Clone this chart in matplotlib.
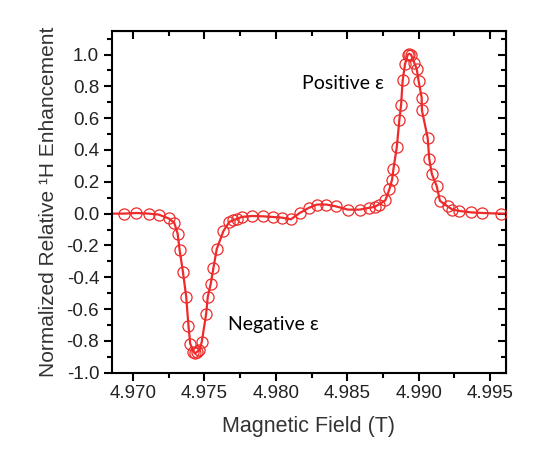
import matplotlib.pyplot as plt
from matplotlib.ticker import MultipleLocator, FormatStrFormatter

# measured points (open circles)
field = [4.96935, 4.97023, 4.97109, 4.97179, 4.97249, 4.97288, 4.97312, 4.97326,
         4.97349, 4.97372, 4.97388, 4.97400, 4.97423, 4.97435, 4.97447, 4.97465,
         4.97481, 4.97512, 4.97523, 4.97544, 4.97563, 4.97586, 4.97633, 4.97674,
         4.97702, 4.97726, 4.97760, 4.97830, 4.97912, 4.97977, 4.98040, 4.98105,
         4.98167, 4.98230, 4.98288, 4.98353, 4.98419, 4.98505, 4.98586, 4.98649,
         4.98691, 4.98721, 4.98767, 4.98795, 4.98814, 4.98823, 4.98847, 4.98865,
         4.98877, 4.98888, 4.98905, 4.98923, 4.98935, 4.98947, 4.98970, 4.98986,
         4.99000, 4.99021, 4.99023, 4.99063, 4.99074, 4.99093, 4.99126, 4.99149,
         4.99202, 4.99237, 4.99284, 4.99365, 4.99447, 4.99575]
enhancement = [0.000, 0.004, 0.000, -0.006, -0.030, -0.057, -0.126, -0.230,
               -0.366, -0.523, -0.708, -0.817, -0.869, -0.879, -0.869, -0.858,
               -0.806, -0.628, -0.523, -0.440, -0.339, -0.222, -0.109, -0.052,
               -0.042, -0.034, -0.021, -0.015, -0.017, -0.021, -0.025, -0.036,
               0.004, 0.036, 0.057, 0.057, 0.046, 0.025, 0.025, 0.036,
               0.042, 0.057, 0.084, 0.153, 0.214, 0.278, 0.419, 0.590,
               0.685, 0.838, 0.942, 0.999, 1.005, 0.999, 0.946, 0.911,
               0.833, 0.729, 0.649, 0.477, 0.345, 0.247, 0.174, 0.080,
               0.046, 0.025, 0.017, 0.008, 0.004, 0.000]

# fit line, runs out to the frame edges
fit_x = [4.9685] + field + [4.9961]
fit_y = [0.0] + enhancement + [0.0]

red = "#ee2a2a"

plt.rcParams["font.family"] = ["Liberation Sans", "DejaVu Sans"]

fig = plt.figure(figsize=(5.57, 4.65), dpi=100)
ax = fig.add_axes([0.2005, 0.1985, 0.7075, 0.7355])

ax.plot(fit_x, fit_y, color=red, lw=1.6, zorder=2)
ax.plot(field, enhancement, linestyle="none", marker="o", markersize=8,
        markerfacecolor="none", markeredgecolor=red, markeredgewidth=0.9, zorder=3)

ax.set_xlim(4.9685, 4.9961)
ax.set_ylim(-1.0, 1.15)

ax.xaxis.set_major_locator(MultipleLocator(0.005))
ax.xaxis.set_minor_locator(MultipleLocator(0.0025))
ax.xaxis.set_major_formatter(FormatStrFormatter("%.3f"))
ax.yaxis.set_major_locator(MultipleLocator(0.2))
ax.yaxis.set_minor_locator(MultipleLocator(0.1))
ax.yaxis.set_major_formatter(FormatStrFormatter("%.1f"))

for side in ax.spines.values():
    side.set_linewidth(1.5)

# outward ticks on left/bottom, inward ticks on top/right
ax.tick_params(which="both", direction="out", width=1.5, labelsize=13.5, pad=3,
               labelcolor="#222222")
ax.tick_params(which="major", length=6)
ax.tick_params(which="minor", length=3.5)

top = ax.secondary_xaxis("top")
top.xaxis.set_major_locator(MultipleLocator(0.005))
top.xaxis.set_minor_locator(MultipleLocator(0.0025))
top.tick_params(which="both", direction="in", width=1.5, labeltop=False)
top.tick_params(which="major", length=6)
top.tick_params(which="minor", length=3.5)
right = ax.secondary_yaxis("right")
right.yaxis.set_major_locator(MultipleLocator(0.2))
right.yaxis.set_minor_locator(MultipleLocator(0.1))
right.tick_params(which="both", direction="in", width=1.5, labelright=False)
right.tick_params(which="major", length=6)
right.tick_params(which="minor", length=3.5)

ax.set_xlabel("Magnetic Field (T)", fontsize=15.5, labelpad=10, color="#333333")
ax.set_ylabel("Normalized Relative \u00b9H Enhancement", fontsize=15,
              labelpad=6, color="#333333")

ax.text(4.98181, 0.82, "Positive ε", fontsize=14, family=["Lato", "DejaVu Sans"],
        va="center", ha="left")
ax.text(4.97665, -0.70, "Negative ε", fontsize=14, family=["Lato", "DejaVu Sans"],
        va="center", ha="left")

plt.savefig("out.png", dpi=100)
